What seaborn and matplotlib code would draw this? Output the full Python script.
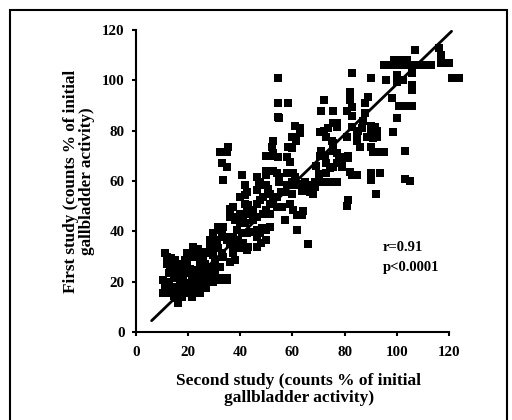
import matplotlib
matplotlib.use("Agg")
import matplotlib.pyplot as plt
import seaborn as sns
import pandas as pd
from matplotlib.patches import Rectangle

# second study (x) and first study (y), counts % of initial gallbladder activity
second_study = [
    107, 116, 117, 117, 120, 121, 125, 123, 113, 106, 108, 110,
    95, 97, 99, 101, 103, 105, 99, 101, 103, 104,
    83, 90, 96, 100, 100, 102.5, 105.7, 105.7, 106, 98, 101, 103, 106, 100, 98.6,
    103, 103, 105, 93.5, 90, 90, 92,
    82, 82, 82, 83, 83, 80.8, 88, 89, 88, 87, 86.5, 85, 90, 91.5, 90, 92.5, 92.5,
    88.4, 91, 86, 90, 91, 93, 95, 83, 84.6, 84.6, 81, 81.4, 79, 82, 83, 84.6,
    81.4, 80.8,
    72, 71, 75.6, 75.6, 77, 77, 73.7, 70.6, 72, 73, 75, 75.6, 71, 70.6, 72.5,
    75.6, 77, 78, 80, 81.4, 73, 74.4, 75.6, 77, 79, 69, 70, 68.5, 70.6, 72.5,
    75.6, 77, 73, 68, 66.7, 64.8, 63, 62,
    61, 63, 60, 61.4, 63, 58.4, 60, 58, 59, 54.6, 52.6, 51.4, 50, 52.6, 52,
    55, 54.6, 54.6, 58.4, 54.6, 52.6, 54, 55, 55, 50, 50, 50, 50.7, 51.4,
    47.5, 47, 46.3, 46.3, 40.5, 41.8, 34.8, 35.4, 32.2, 32.8, 34.8, 33.5,
    57, 61.6, 66, 60, 59, 60.3, 61.6, 63.5, 64, 60.3, 61, 59.7, 61, 58, 58, 57,
    55.6, 54, 52.6, 51.4, 48.8, 47.5, 46.3, 45, 54, 55.8, 50, 51.4, 48.8, 46.3,
    45, 51.4, 50, 47.5, 46.3, 50, 48, 46.3,
    41, 42.4, 43.7, 41.8, 43, 42.4, 40, 38, 36, 36, 37.3, 38, 40, 41.8,
    38.6, 40.5, 42.4, 44.3, 46.3, 48.2, 37.3, 39.2, 41, 43, 40, 42.4,
    36, 37.3, 37.3, 38, 36, 33.5, 31.6, 32.2, 29.6, 32.8, 34, 34.8, 36,
    31, 29.6, 28.4, 31.4, 32.8, 33.5, 28.4, 27, 29.6, 30.3, 32.2, 30.3,
    27.7, 25.2, 29.6, 32.2, 34.8, 33.5, 25.8, 27, 29.6,
    11.1, 13.6, 11.8, 14.4, 12.5, 10.5, 11.1, 13, 11.8, 10.5, 14.4, 16.2,
    22, 23.3, 20.7, 18.8, 15.6, 17.5, 19.4, 21.3, 23.3, 24.5,
    16.9, 18.8, 20, 22, 23.9, 15.6, 16.9, 19.4, 21.3, 17.5, 15.6,
    12.5, 14.4, 15.6, 18.2, 19.4, 20.7, 22.6, 24.5, 24.5, 26.4, 25.8, 27.7,
    24.5, 27, 31, 32.8, 34.8, 27, 24.5, 22.6, 20.7, 17.5, 14.9,
    13, 11.8, 14.9, 16.9, 19.4, 21.3, 24.5, 25.8, 23.9, 25.2,
    42.4, 40, 41.8, 63.5, 65.5, 67.3, 68.6,
]
first_study = [
    112, 113, 110, 107, 107, 101, 101, 101, 106, 106, 106, 106,
    106, 106, 106, 106, 106, 106, 108, 108, 108, 108,
    103, 101, 100, 102, 99.5, 100, 98, 96, 103, 93, 90, 90, 90, 85, 79.6,
    72, 61, 60, 63, 63, 60.4, 55,
    95.5, 93.5, 92, 89.5, 86, 88, 91, 93.5, 87, 84, 81, 80, 82, 81.5, 79.6, 80, 77.6,
    77.6, 77, 73.6, 73.6, 71.7, 71.7, 71.7, 81.6, 79, 76, 77.6, 70, 65.7, 63.7, 62.4, 62.4,
    52.5, 50,
    92, 88, 88, 83, 83, 81.6, 81, 79.6, 80, 77.6, 76, 75, 72, 70, 70,
    72, 71, 69.7, 69.7, 69, 67, 65, 65.7, 67, 67, 66, 62.7, 59.7, 59.7, 59.7,
    59.7, 59.7, 63, 55, 55.8, 59.7, 59, 58.4,
    82, 81, 77.6, 76, 79, 73.6, 73, 69.7, 67.7, 69.7, 71, 70, 70, 76, 73.6,
    85, 85.6, 91, 91, 100.8, 64, 63, 61.7, 59.7, 64, 62.4, 58.4, 57, 55,
    59.7, 58.4, 56.4, 61.7, 62.4, 58.4, 71.7, 73.6, 71.7, 67, 65.7, 60.4,
    44.5, 40.5, 35, 55, 51, 48.5, 46.5, 46.5, 48, 63, 61.7, 59.7, 58.4, 63, 58.4, 55.8,
    55.8, 53.8, 52.5, 51, 53.8, 52.5, 51, 48.5, 49.8, 49.8, 48.5, 47, 47, 45.8,
    44.5, 41.8, 40.5, 39.2, 37.9, 36.6, 35.2, 33.9,
    45.8, 47, 47, 51, 50.5, 49, 47, 45.8, 45.8, 49, 49.8, 44.5, 43.8, 43.2,
    40.5, 39.2, 39.2, 39.9, 40.5, 41.2, 37.9, 36.6, 35.2, 33.9, 33.2, 32.6,
    35.2, 33.9, 31.3, 28.6, 28, 41.8, 41.8, 40.5, 39.2, 39.2, 37.9, 36.6, 37.9,
    36.6, 33.9, 36.6, 33.2, 31.3, 30, 33.2, 31.3, 30.6, 28, 26, 24.6,
    26, 23.3, 22, 21.3, 21.3, 20.7, 20.7, 19.3, 20,
    31.3, 29.3, 27.2, 25.8, 23.3, 20.7, 18, 16.9, 15.6, 15.6, 14.3, 11.7,
    33.9, 31.3, 31.3, 28.6, 26, 24.6, 23.3, 22, 20, 18,
    20.7, 18.7, 17.4, 16, 16.7, 18, 16.7, 15.4, 14, 14, 13.4,
    20, 21.3, 22.6, 22, 27.2, 25.2, 24.6, 26, 28, 27.2, 24.6, 23.9,
    22, 22, 20.7, 20.7, 20.7, 17.4, 15.4, 18, 19.3, 19.3, 16.7,
    25.8, 29.8, 28.6, 27.2, 31.3, 30, 30, 30, 33, 31.9,
    55.8, 53.8, 54.4, 56, 57.7, 58.4, 57.7,
]

# regression line end points
line_x = [6, 121]
line_y = [4.5, 119.5]

x_ticks = [0, 20, 40, 60, 80, 100, 120]
y_ticks = [0, 20, 40, 60, 80, 100, 120]

df = pd.DataFrame({"second": second_study, "first": first_study})

sns.set_style("ticks")
plt.rcParams["font.family"] = ["Liberation Serif", "DejaVu Serif"]
plt.rcParams["text.color"] = "black"
plt.rcParams["axes.labelcolor"] = "black"

fig = plt.figure(figsize=(5.12, 4.2), dpi=100)
ax = fig.add_axes([0.2656, 0.2095, 0.6367, 0.719])

sns.scatterplot(data=df, x="second", y="first", marker="s", s=32,
                color="black", linewidth=0, ax=ax, zorder=3)
sns.lineplot(x=line_x, y=line_y, color="black", linewidth=2, ax=ax, zorder=4)

ax.set_xlim(0, 125)
ax.set_ylim(0, 120)
ax.set_xticks(x_ticks)
ax.set_yticks(y_ticks)
ax.spines["bottom"].set_bounds(0, 120)
for side in ["top", "right"]:
    ax.spines[side].set_visible(False)
for side in ["bottom", "left"]:
    ax.spines[side].set_linewidth(1.5)
    ax.spines[side].set_color("black")
ax.tick_params(direction="out", length=3, width=1.5, colors="black",
               labelsize=10.8, pad=5)
ax.tick_params(axis="x", pad=7)
for lab in ax.get_xticklabels() + ax.get_yticklabels():
    lab.set_fontweight("bold")

ax.set_xlabel("Second study (counts % of initial\ngallbladder activity)",
              fontsize=12.5, fontweight="bold", labelpad=10, linespacing=1.1)
ax.set_ylabel("First study (counts % of initial\ngallbladder activity)",
              fontsize=12.3, fontweight="bold", labelpad=5, linespacing=1.05)

ax.text(94.5, 33.5, "r=0.91", fontsize=10.5, fontweight="bold", va="center")
ax.text(94.5, 25.5, "p<0.0001", fontsize=10.5, fontweight="bold", va="center")

# outer frame around the figure
fig.patches.append(Rectangle((0.02, -0.02), 0.97, 0.996, transform=fig.transFigure,
                             fill=False, edgecolor="black", linewidth=1.5))

fig.savefig("out.png", dpi=100)
